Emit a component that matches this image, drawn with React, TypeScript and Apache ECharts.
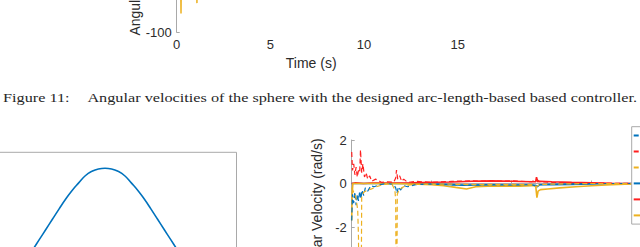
import React, { useEffect, useRef } from 'react';
import * as echarts from 'echarts';

// ---------- Top chart (Figure 11 fragment): angular velocity, deg/s ----------
const topXTicks = [0, 5, 10, 15];
const topTime = [0, 0.2, 0.23, 0.26, 1.05, 1.08, 1.11, 1.5, 3, 15];
const topOrange = [0, -5, -80, 10, 0, -69, 5, 0, 0, 0];

// ---------- Bottom-left chart: smooth bump ----------
const pathX = [1.2, 1.4, 1.6, 1.8, 2.0, 2.2, 2.4, 2.6, 2.8, 3.0, 3.2, 3.4, 3.6, 3.8, 4.0, 4.2, 4.4, 4.6, 4.8, 5.0, 5.2, 5.4, 5.6, 5.8, 6.0, 6.2, 6.4, 6.6, 6.8];
const pathY = [-0.74, -0.46, -0.17, 0.13, 0.43, 0.73, 1.03, 1.33, 1.62, 1.88, 2.1, 2.31, 2.44, 2.51, 2.53, 2.51, 2.44, 2.31, 2.1, 1.88, 1.62, 1.33, 1.03, 0.73, 0.43, 0.13, -0.17, -0.46, -0.74];

// ---------- Bottom-right chart: angular velocity, rad/s ----------
const seriesNames = ['ω1 ref', 'ω2 ref', 'ω3 ref', 'ω1', 'ω2', 'ω3'];

const refXTime = [0, 0.02, 0.05, 0.08, 0.11, 0.14, 0.17, 0.2, 0.23, 0.26, 0.3, 0.34, 0.4, 0.48, 0.56, 0.7, 0.9, 1.05, 1.1, 1.13, 1.17, 1.22, 1.3, 1.4, 1.6, 2.0, 2.5, 3.0, 3.5, 4.0, 4.5, 4.6, 4.7, 5.0, 5.5, 6.0, 7.0, 10];
const refXVal = [-1.7, -0.5, -0.9, -0.4, -1.0, -0.5, -0.8, -0.35, -0.7, -0.3, -0.55, -0.2, -0.35, -0.1, -0.15, -0.05, 0, -0.05, -0.2, -0.45, -0.15, -0.3, -0.1, -0.15, -0.05, -0.03, -0.06, -0.08, -0.06, -0.07, -0.05, -0.12, -0.05, -0.04, -0.02, 0, 0, 0];

const refYTime = [0, 0.02, 0.05, 0.08, 0.11, 0.14, 0.17, 0.2, 0.22, 0.25, 0.28, 0.32, 0.36, 0.4, 0.45, 0.5, 0.6, 0.75, 0.9, 1.05, 1.1, 1.12, 1.15, 1.2, 1.25, 1.3, 1.4, 1.6, 2.0, 2.5, 3.0, 3.5, 4.0, 4.5, 4.62, 4.7, 5.0, 5.5, 6.0, 7.0, 10];
const refYVal = [1.45, 0.6, 0.9, 0.4, 0.75, 0.3, 0.6, 0.5, 1.55, 0.5, 0.9, 0.3, 0.5, 0.2, 0.35, 0.1, 0.2, 0.05, 0.08, 0.05, 0.25, 0.62, 0.2, 0.35, 0.1, 0.2, 0.05, 0.1, 0.05, 0.1, 0.12, 0.1, 0.12, 0.08, 0.2, 0.08, 0.05, 0.03, 0.02, 0, 0];

const refZTime = [0, 0.05, 0.1, 0.15, 0.17, 0.19, 0.21, 0.23, 0.25, 0.3, 0.4, 0.5, 0.6, 0.8, 1.0, 1.08, 1.1, 1.12, 1.14, 1.18, 1.25, 1.35, 1.5, 2.0, 3.0, 4.0, 4.5, 4.62, 4.7, 5.0, 6.0, 7.0, 10];
const refZVal = [-0.2, -0.4, -0.6, -1.2, -2.5, -8, -3, -8, -0.6, -0.4, -0.3, -0.25, -0.15, -0.05, 0, -0.3, -0.8, -8, -0.5, -0.3, -0.2, -0.1, -0.05, -0.02, -0.05, -0.05, -0.05, -0.15, -0.05, -0.03, 0, 0, 0];

const wXTime = [0, 1.5, 2.0, 2.5, 2.8, 3.0, 3.5, 4.0, 4.5, 4.6, 4.63, 4.7, 5.0, 5.5, 6.0, 6.5, 7.0, 10];
const wXVal = [0, 0, -0.02, -0.05, -0.08, -0.07, -0.06, -0.08, -0.08, -0.08, -0.15, -0.06, -0.05, -0.04, -0.02, -0.01, 0, 0];

const wYTime = [0, 0.1, 0.3, 0.5, 1.0, 1.5, 2.0, 2.5, 3.0, 3.5, 4.0, 4.5, 4.6, 4.62, 4.65, 4.7, 5.0, 5.5, 6.0, 6.5, 7.0, 10];
const wYVal = [0, 0.03, 0, 0.02, 0.02, 0.03, 0.06, 0.07, 0.1, 0.12, 0.1, 0.08, 0.08, 0.29, 0.08, 0.1, 0.08, 0.05, 0.03, 0.01, 0, 0];

const wZTime = [0, 0.01, 0.03, 0.5, 1.0, 1.5, 2.0, 2.3, 2.6, 2.87, 3.1, 3.4, 3.8, 4.2, 4.5, 4.6, 4.63, 4.66, 4.72, 4.9, 5.2, 5.6, 6.0, 6.5, 7.0, 10];
const wZVal = [-1.7, -0.5, 0, 0, 0, -0.02, -0.05, -0.1, -0.18, -0.25, -0.15, -0.12, -0.12, -0.12, -0.1, -0.1, -0.65, -0.35, -0.28, -0.25, -0.2, -0.15, -0.1, -0.05, -0.02, 0];

const captionLabel = 'Figure 11:';
const captionText = 'Angular velocities of the sphere with the designed arc-length-based based controller.';

const BLUE = '#0072BD';
const RED = '#FF1F1F';
const ORANGE = '#EDB120';
const AXIS = '#a9a9a9';
const TXT = '#2b2b2b';
const SANS = '"Liberation Sans", Arial, Helvetica, sans-serif';
const SERIF = '"Liberation Serif", "Times New Roman", serif';

const zip = (a: number[], b: number[]) => a.map((v, i) => [v, b[i]]);

export default function App() {
  const ref = useRef<HTMLDivElement>(null);
  useEffect(() => {
    if (!ref.current) return;
    const chart = echarts.init(ref.current, null, { renderer: 'svg' });
    const axisCommon = {
      axisLine: { show: true, lineStyle: { color: AXIS, width: 1 } },
      axisTick: { show: true, inside: true, length: 3, lineStyle: { color: AXIS } },
      splitLine: { show: false },
    };
    const brLine = (name: string, t: number[], v: number[], color: string, dashed: boolean) => ({
      name,
      type: 'line',
      xAxisIndex: 2,
      yAxisIndex: 2,
      data: zip(t, v),
      symbol: 'none',
      lineStyle: { color, width: dashed ? 1.2 : 1.6, type: dashed ? [5, 3] : 'solid' },
      itemStyle: { color },
      z: dashed ? 3 : 2,
    });
    chart.setOption({
      animation: false,
      backgroundColor: '#ffffff',
      grid: [
        { left: 176.7, top: -108.9, width: 281, height: 141.2, outerBoundsMode: 'none' },
        { left: -26.5, top: 152.3, width: 263, height: 204, show: true, borderColor: AXIS, borderWidth: 1, backgroundColor: 'transparent', outerBoundsMode: 'none' },
        { left: 351.7, top: 140, width: 400, height: 130.5, outerBoundsMode: 'none' },
      ],
      xAxis: [
        {
          ...axisCommon, gridIndex: 0, type: 'value', min: 0, max: 15, interval: 5,
          axisLabel: { margin: 6, fontSize: 13, color: TXT, fontFamily: SANS },
          name: 'Time (s)', nameLocation: 'middle', nameGap: 18,
          nameTextStyle: { fontSize: 14, color: TXT, fontFamily: SANS, padding: [0, 12, 0, 0] },
        },
        {
          ...axisCommon, gridIndex: 1, type: 'value', min: 0, max: 8, interval: 1, position: 'top',
          axisLabel: { show: false },
        },
        {
          ...axisCommon, gridIndex: 2, type: 'value', min: 0, max: 10, interval: 2,
          axisLabel: { show: false },
        },
      ],
      yAxis: [
        {
          ...axisCommon, gridIndex: 0, type: 'value', min: -100, max: 50, interval: 50,
          axisLabel: { margin: 5, fontSize: 13, color: TXT, fontFamily: SANS },
          name: 'Angular Velocity (deg/s)', nameLocation: 'middle', nameGap: 32,
          nameTextStyle: { fontSize: 14, color: TXT, fontFamily: SANS },
        },
        {
          ...axisCommon, gridIndex: 1, type: 'value', min: -3, max: 3, interval: 1, position: 'right',
          axisLabel: { show: false },
        },
        {
          ...axisCommon, gridIndex: 2, type: 'value', min: -4, max: 2, interval: 2,
          axisLabel: { margin: 5, fontSize: 13, color: TXT, fontFamily: SANS },
          name: 'Angular Velocity (rad/s)', nameLocation: 'middle', nameGap: 17,
          nameTextStyle: { fontSize: 14, color: TXT, fontFamily: SANS, padding: [0, 11, 0, 0] },
        },
      ],
      legend: {
        data: seriesNames,
        orient: 'vertical',
        left: 631.7,
        top: 126.7,
        padding: [2.7, 5, 2.7, 1],
        itemWidth: 30,
        itemHeight: 14,
        itemGap: 4,
        backgroundColor: '#ffffff',
        borderColor: AXIS,
        borderWidth: 1,
        borderRadius: 0,
        itemStyle: { opacity: 0 },
        textStyle: { fontSize: 12, color: TXT, fontFamily: SANS },
      },
      series: [
        {
          name: 'top-ω3', type: 'line', xAxisIndex: 0, yAxisIndex: 0,
          data: zip(topTime, topOrange), symbol: 'none',
          lineStyle: { color: ORANGE, width: 1.5 },
        },
        {
          name: 'path', type: 'line', xAxisIndex: 1, yAxisIndex: 1,
          data: zip(pathX, pathY), symbol: 'none', smooth: true,
          lineStyle: { color: BLUE, width: 1.6 },
        },
        brLine(seriesNames[0], refXTime, refXVal, BLUE, true),
        brLine(seriesNames[1], refYTime, refYVal, RED, true),
        brLine(seriesNames[2], refZTime, refZVal, ORANGE, true),
        brLine(seriesNames[3], wXTime, wXVal, BLUE, false),
        brLine(seriesNames[4], wYTime, wYVal, RED, false),
        brLine(seriesNames[5], wZTime, wZVal, ORANGE, false),
      ],
      graphic: [
        {
          type: 'text', x: 3, y: 98, scaleX: 1.25,
          style: { text: captionLabel, font: `13px ${SERIF}`, fill: '#262626', align: 'left', verticalAlign: 'middle' },
        },
        {
          type: 'text', x: 637, y: 98, scaleX: 1.25,
          style: { text: captionText, font: `13px ${SERIF}`, fill: '#262626', align: 'right', verticalAlign: 'middle' },
        },
      ],
    });
    return () => chart.dispose();
  }, []);
  return (
    <div
      ref={ref}
      style={{ position: 'fixed', left: 0, top: 0, width: 640, height: 247, background: '#fff' }}
    />
  );
}
